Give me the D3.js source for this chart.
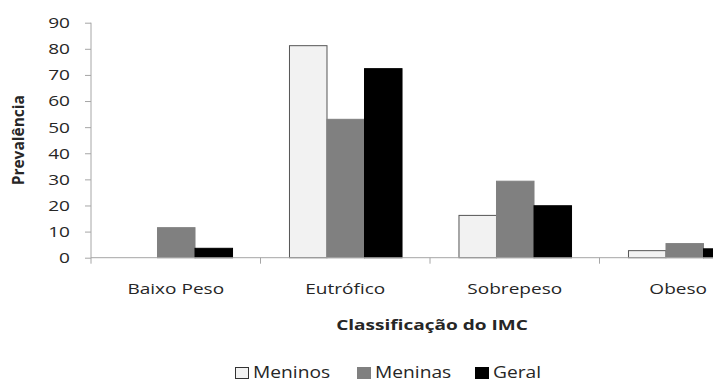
<!DOCTYPE html>
<html><head><meta charset="utf-8">
<script src="https://cdn.jsdelivr.net/npm/d3@7"></script>
<style>
html,body{margin:0;padding:0;background:#fff;overflow:hidden}
text{font-family:"Open Sans",sans-serif;fill:#262626}
</style></head>
<body><svg id="c" width="713" height="382"></svg>
<script>
const categories = ["Baixo Peso", "Eutrófico", "Sobrepeso", "Obeso"];
const seriesNames = ["Meninos", "Meninas", "Geral"];
const meninos = [0, 81.2, 16.2, 2.7];
const meninas = [11.5, 53.0, 29.3, 5.4];
const geral = [3.6, 72.4, 19.9, 3.4];
const yTicks = [0, 10, 20, 30, 40, 50, 60, 70, 80, 90];
const fills = ["#f2f2f2", "#808080", "#000000"];
const strokes = ["#555555", "#808080", "#000000"];

const W = 713;
const svg = d3.select("#c");
const pL = 91, pR = 769, pT = 22.7, pB = 257.7;
const SX = 1.27; // horizontal stretch of the text in the original
const x = d3.scaleBand().domain(categories).range([pL, pR]).paddingInner(0).paddingOuter(0);
const xs = d3.scaleBand().domain(seriesNames).range([x.bandwidth()*0.168, x.bandwidth()*0.832]).padding(0);
const y = d3.scaleLinear().domain([0, 90]).range([pB, pT]);
const values = [meninos, meninas, geral];

function hText(px, py, anchor, str, size, sx, opts = {}) {
  const t = svg.append("text")
    .attr("transform", `translate(${px},${py}) scale(${sx},1)`)
    .attr("text-anchor", anchor).attr("font-size", size)
    .attr("fill", opts.fill || "#262626").text(str);
  if (opts.bold) t.attr("font-weight", "bold");
  if (opts.dy) t.attr("dy", opts.dy);
  return t;
}

const g = svg.append("g");
categories.forEach((c, ci) => {
  seriesNames.forEach((s, si) => {
    const v = values[si][ci];
    if (v <= 0) return;
    g.append("rect")
      .attr("x", x(c) + xs(s) + 0.5)
      .attr("y", y(v))
      .attr("width", xs.bandwidth())
      .attr("height", y(0) - y(v))
      .attr("fill", fills[si])
      .attr("stroke", strokes[si])
      .attr("stroke-width", 1);
  });
});

// y axis
const ya = svg.append("g").attr("transform", `translate(${pL},0)`)
  .call(d3.axisLeft(y).tickValues(yTicks).tickSize(6).tickFormat(""));
ya.select(".domain").attr("stroke", "#a6a6a6").attr("d", `M0,${pT}V${pB + 6}`);
ya.selectAll(".tick line").attr("stroke", "#a6a6a6");
yTicks.forEach(v => hText(70, y(v), "end", d3.format("d")(v), 15, SX, {dy: "0.36em"}));

// x axis
const xa = svg.append("g").attr("transform", `translate(0,${pB})`)
  .call(d3.axisBottom(x).tickSize(0).tickFormat(""));
xa.select(".domain").attr("stroke", "#a6a6a6").attr("d", `M${pL},0H${pR}`);
const bounds = categories.slice(1).map(c => x(c));
xa.selectAll(".sep").data(bounds).enter().append("line")
  .attr("x1", d => d).attr("x2", d => d).attr("y1", 0).attr("y2", 6).attr("stroke", "#a6a6a6");
categories.forEach(c => {
  const t = hText(x(c) + x.bandwidth() / 2, 294, "middle", c, 15, SX);
  const half = t.node().getComputedTextLength() * SX / 2;
  const cx = Math.min(x(c) + x.bandwidth() / 2, W - 6 - half);
  t.attr("transform", `translate(${cx},294) scale(${SX},1)`);
});

// titles
hText(432, 329.5, "middle", "Classificação do IMC", 15, SX, {bold: true, fill: "#000"});
svg.append("text").attr("transform", `translate(24,${(pT + pB) / 2}) rotate(-90)`)
  .attr("text-anchor", "middle").attr("font-size", 15.5).attr("font-weight", "bold").attr("fill", "#000").text("Prevalência");

// legend
const legX = [235, 357, 475];
seriesNames.forEach((s, i) => {
  svg.append("rect").attr("x", legX[i] + 0.5).attr("y", 367.5).attr("width", 13).attr("height", 11)
    .attr("fill", fills[i]).attr("stroke", i === 0 ? "#333" : fills[i]);
  hText(legX[i] + 18, 377.5, "start", s, 16, 1.2);
});
</script></body></html>
